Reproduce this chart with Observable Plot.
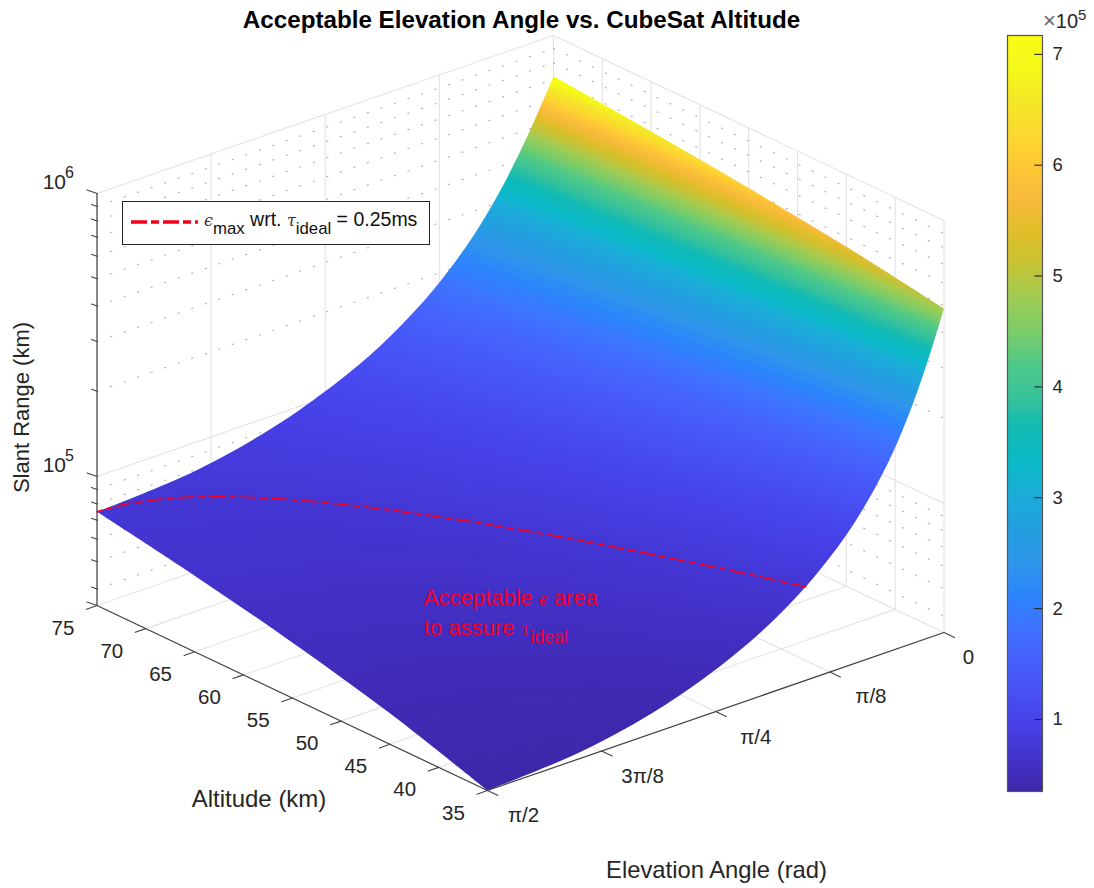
<!DOCTYPE html>
<html>
<head>
<meta charset="utf-8">
<script src="https://cdn.jsdelivr.net/npm/d3@7"></script>
<script src="https://cdn.jsdelivr.net/npm/@observablehq/plot@0.6"></script>
<style>
html,body{margin:0;padding:0;background:#fff}
#page{position:relative;width:1094px;height:888px;overflow:hidden;font-family:"Liberation Sans",Arial,sans-serif}
#page svg{position:absolute;left:0;top:0;background:transparent}
.over{position:absolute;white-space:nowrap}
.greek{font-family:"DejaVu Serif","Liberation Serif",serif;font-style:italic}
sub{font-size:.86em;line-height:0;vertical-align:-.45em}
</style>
</head>
<body>
<div id="page"></div>
<script>
// Values. Slant range in km, one list per altitude, one entry per elevation.
const altitudes = [35, 45, 55, 65, 75];
const elevationDegrees = [0, 1, 2, 3, 4, 5, 6, 8, 10, 12, 15, 18, 22, 27, 33, 40, 50, 60, 72, 90];
const slant35 = [488.4, 432.8, 384.2, 342.2, 306.1, 275.3, 249.0, 207.3, 176.2, 152.7, 126.8, 108.2, 90.7, 75.6, 63.5, 54.1, 45.5, 40.3, 36.8, 35.0];
const slant45 = [554.2, 498.2, 448.3, 404.5, 366.0, 332.6, 303.4, 256.0, 219.8, 191.8, 160.3, 137.6, 115.7, 96.7, 81.4, 69.4, 58.4, 51.9, 47.3, 45.0];
const slant55 = [613.1, 556.8, 506.1, 460.8, 420.7, 385.1, 353.8, 301.8, 261.3, 229.4, 193.0, 166.2, 140.3, 117.6, 99.1, 84.6, 71.4, 63.3, 57.8, 55.0];
const slant65 = [667.0, 610.4, 559.1, 512.8, 471.2, 434.1, 400.9, 345.2, 301.0, 265.6, 224.7, 194.3, 164.5, 138.3, 116.8, 99.8, 84.3, 74.8, 68.3, 65.0];
const slant75 = [717.0, 660.3, 608.4, 561.2, 518.5, 480.0, 445.4, 386.5, 339.0, 300.6, 255.7, 221.9, 188.5, 158.8, 134.3, 114.9, 97.2, 86.3, 78.8, 75.0];
// The dashed curve: slant range 75 km
const curveAltitudes = [35, 40, 45, 50, 55, 60, 65, 70, 72, 74, 74.8, 75];
const curveElevations = [0.4757, 0.5532, 0.6346, 0.7215, 0.8157, 0.9207, 1.043, 1.1998, 1.284, 1.4055, 1.4968, 1.5708];
const curveSlantKm = 75;
// Axis ticks
const altitudeTicks = [35, 40, 45, 50, 55, 60, 65, 70, 75];
const elevationTicks = [0, 22.5, 45, 67.5, 90];
const elevationTickLabels = ["π/2", "3π/8", "π/4", "π/8", "0"];
const rangeMajor = [1e5, 1e6];
const rangeMinor = [4e4, 5e4, 6e4, 7e4, 8e4, 9e4, 2e5, 3e5, 4e5, 5e5, 6e5, 7e5, 8e5, 9e5];
const colorbarTicks = [1e5, 2e5, 3e5, 4e5, 5e5, 6e5, 7e5];
const parula = ["#3e26a8","#4332cb","#4640e6","#4750f4","#4660fb","#3f72ff","#2c85fc","#2f97ea","#239fe0","#1cacd9","#0bb9c8","#0fbab6","#38c29b","#4fc988","#7ccc69","#9fcc54","#c6c336","#e0be29","#f8ba3c","#fec736","#fcd930","#f5e728","#f5f91a","#f9fb15"];

const slantRows = [slant35, slant45, slant55, slant65, slant75];
const rangeMin = 35000, rangeMax = 717000;
const rad = d => d * Math.PI / 180;

// Orthographic view of the box: altitude, elevation (rad), range (m)
function project(a, e, r) {
  const u = (a - 35) / 40, v = 1 - e / (Math.PI / 2), w = Math.log10(r / rangeMin) * 283;
  return [487 - 390.5 * u + 456.5 * v, 790 - 185 * u - 158 * v - w];
}
const P = (a, e, r, extra = {}) => { const [px, py] = project(a, e, r); return {px, py, a, e, r, ...extra}; };
const seg = (A, B, id) => [P(...A, {id}), P(...B, {id})];

const surface = altitudes.flatMap((a, i) => elevationDegrees.map((d, j) => P(a, rad(d), slantRows[i][j] * 1000, {slant: slantRows[i][j] * 1000})));

// Wall and floor grid
const solid = [], dotted = [];
const H = Math.PI / 2;
altitudeTicks.forEach(a => {
  solid.push(...seg([a, H, rangeMin], [a, 0, rangeMin], "fa" + a));
  solid.push(...seg([a, 0, rangeMin], [a, 0, 1e6], "va" + a));
});
elevationTicks.forEach(d => {
  const e = rad(d);
  solid.push(...seg([35, e, rangeMin], [75, e, rangeMin], "fe" + d));
  solid.push(...seg([75, e, rangeMin], [75, e, 1e6], "ve" + d));
});
rangeMajor.forEach(r => {
  solid.push(...seg([75, H, r], [75, 0, r], "wl" + r));
  solid.push(...seg([75, 0, r], [35, 0, r], "wr" + r));
});
rangeMinor.forEach(r => {
  dotted.push(...seg([75, H, r], [75, 0, r], "dl" + r));
  dotted.push(...seg([75, 0, r], [35, 0, r], "dr" + r));
});

// Axes and ticks
const axisLines = [
  ...seg([75, H, rangeMin], [75, H, 1e6], "z"),
  ...seg([75, H, rangeMin], [35, H, rangeMin], "alt"),
  ...seg([35, H, rangeMin], [35, 0, rangeMin], "ele")
];
const axisTicks = [];
const tick = (pt, dx, dy, id) => axisTicks.push({px: pt[0], py: pt[1], id}, {px: pt[0] + dx, py: pt[1] + dy, id});
rangeMajor.concat([rangeMin]).forEach(r => tick(project(75, H, r), -10, -3.5, "zM" + r));
rangeMinor.forEach(r => tick(project(75, H, r), -5.5, -2, "zm" + r));
altitudeTicks.forEach(a => tick(project(a, H, rangeMin), -10.5, 3.7, "ta" + a));
elevationTicks.forEach(d => tick(project(35, rad(d), rangeMin), 10.5, 5, "te" + d));

const altLabels = altitudeTicks.map(a => { const p = project(a, H, rangeMin); return {px: p[0] - 34, py: p[1] + 22.5, t: String(a)}; });
const eleLabels = elevationTicks.map((d, i) => {
  const p = project(35, rad(90 - d), rangeMin);
  const off = [[36, 25], [41, 25.5], [40, 26], [41, 24], [24.5, 24.5]][i];
  return {px: p[0] + off[0], py: p[1] + off[1], t: elevationTickLabels[i]};
});
const zLabels = rangeMajor.map((r, i) => { const p = project(75, H, r); return {px: p[0] - 31, py: p[1] - 3, t: "10", s: String(5 + i)}; });

const curve = curveAltitudes.map((a, i) => P(a, curveElevations[i], curveSlantKm * 1000));

function outline(x, y) {
  const line = d3.line().x(d => x(d.px)).y(d => y(d.py)).curve(d3.curveCatmullRom);
  const n = elevationDegrees.length - 1, m = altitudes.length - 1;
  const at = (i, j) => surface[i * (n + 1) + j];
  const e1 = d3.range(n, -1, -1).map(j => at(0, j));
  const e2 = d3.range(0, m + 1).map(i => at(i, 0));
  const e3 = d3.range(0, n + 1).map(j => at(m, j));
  const e4 = d3.range(m, -1, -1).map(i => at(i, n));
  return [e1, e2, e3, e4].map((e, k) => { const s = line(e); return k ? "L" + s.slice(1) : s; }).join("") + "Z";
}

const gray = "#262626";
const font = '"Liberation Sans",Arial,sans-serif';
const main = Plot.plot({
  width: 1094, height: 888, margin: 0,
  x: {domain: [0, 1094], range: [0, 1094], axis: null},
  y: {domain: [0, 888], range: [0, 888], axis: null},
  color: {type: "linear", domain: [rangeMin, rangeMax], interpolate: d3.piecewise(d3.interpolateRgb, parula)},
  style: {fontFamily: font, background: "transparent"},
  marks: [
    Plot.line(solid, {x: "px", y: "py", z: "id", stroke: "#e3e3e3", strokeWidth: 1.1}),
    Plot.line(dotted, {x: "px", y: "py", z: "id", stroke: "#b0b0b0", strokeWidth: 1.1, strokeDasharray: "1.3,13"}),
    Plot.raster(surface, {
      x: "px", y: "py", fill: "slant", interpolate: "barycentric",
      render(index, scales, values, dims, ctx, next) {
        const g = next(index, scales, values, dims, ctx);
        const clip = d3.create("svg:clipPath").attr("id", "surface-clip");
        clip.append("path").attr("d", outline(scales.x, scales.y));
        g.insertBefore(clip.node(), g.firstChild);
        g.setAttribute("clip-path", "url(#surface-clip)");
        return g;
      }
    }),
    Plot.line(axisLines, {x: "px", y: "py", z: "id", stroke: "#444", strokeWidth: 1.2}),
    Plot.line(axisTicks, {x: "px", y: "py", z: "id", stroke: "#444", strokeWidth: 1.1}),
    Plot.line(curve, {x: "px", y: "py", stroke: "#f5001e", strokeWidth: 1.7, strokeDasharray: "15,5,6,5", curve: "monotone-x"}),
    Plot.text(altLabels, {x: "px", y: "py", text: "t", fontSize: 20.5, fill: gray}),
    Plot.text(eleLabels, {x: "px", y: "py", text: "t", fontSize: 20.5, fill: gray}),
    Plot.text(zLabels, {x: "px", y: "py", text: "t", textAnchor: "end", dx: 0, dy: -8, fontSize: 21, fill: gray}),
    Plot.text(zLabels, {x: "px", y: "py", text: "s", textAnchor: "start", dx: -1, dy: -18, fontSize: 16, fill: gray}),
    Plot.text(["Acceptable Elevation Angle vs. CubeSat Altitude"], {x: () => 521, y: () => 20, fontSize: 24.2, fontWeight: "bold", fill: "#000"}),
    Plot.text(["Slant Range (km)"], {x: () => 21, y: () => 407, rotate: -90, fontSize: 22, fill: gray}),
    Plot.text(["Altitude (km)"], {x: () => 258.5, y: () => 799, fontSize: 24, fill: gray}),
    Plot.text(["Elevation Angle (rad)"], {x: () => 716, y: () => 870, fontSize: 23.8, fill: gray})
  ]
});

const bar = Plot.plot({
  width: 94, height: 888, marginLeft: 7, marginRight: 52, marginTop: 35, marginBottom: 97,
  x: {domain: [0, 1], axis: null},
  y: {domain: [rangeMin, rangeMax], axis: null},
  color: {type: "linear", domain: [rangeMin, rangeMax], interpolate: d3.piecewise(d3.interpolateRgb, parula)},
  style: {fontFamily: font, background: "transparent"},
  marks: [
    Plot.raster({x1: 0, x2: 1, y1: rangeMin, y2: rangeMax, pixelSize: 1, fill: (x, y) => y}),
    Plot.ruleY(colorbarTicks, {x1: 0.78, x2: 1, stroke: gray, strokeWidth: 1.1}),
    Plot.text(colorbarTicks, {y: d => d, x: () => 1, text: d => String(d / 1e5), textAnchor: "start", dx: 10, fontSize: 18.5, fill: gray}),
    Plot.frame({stroke: "#555", strokeWidth: 1.2})
  ]
});
bar.style.left = "1000px";

const page = document.getElementById("page");
page.append(main, bar);

page.insertAdjacentHTML("beforeend", `
<div class="over" style="left:1043px;top:8px;font-size:20px;color:#262626"><span style="color:#666;font-size:22px">×</span>10<sup style="font-size:15px;line-height:0;vertical-align:.55em">5</sup></div>
<div class="over" style="left:122px;top:201px;width:306px;height:42px;background:#fff;border:1px solid #262626;"></div>
<svg class="over" style="left:131px;top:216px" width="68" height="12"><path d="M0 6H67" stroke="#f5001e" stroke-width="3.5" stroke-dasharray="16,4,8,4" fill="none"/></svg>
<div class="over" style="left:204px;top:208px;font-size:19.5px;color:#111"><span class="greek" style="font-size:16px;color:#333">ϵ</span><sub>max</sub> wrt. <span class="greek" style="font-size:16px;color:#333">τ</span><sub>ideal</sub> = 0.25ms</div>
<div class="over" style="left:424px;top:584px;font-size:22px;line-height:27.5px;color:#f5001e">Acceptable <span class="greek" style="font-size:16px">ϵ</span> area<br>to assure <span class="greek" style="font-size:18px">τ</span><sub style="font-size:.8em">ideal</sub></div>
`);
</script>
</body>
</html>
